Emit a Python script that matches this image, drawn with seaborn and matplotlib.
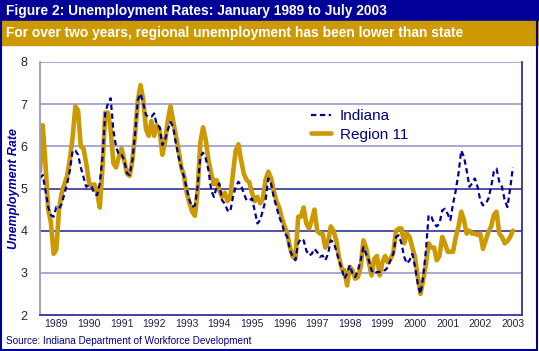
import numpy as np
import pandas as pd
import seaborn as sns
import matplotlib.pyplot as plt
from matplotlib.patches import Rectangle
from matplotlib.lines import Line2D

# monthly rates, Jan 1989 .. Jul 2003 (one row per year)
indiana = [
    5.24, 5.32, 4.96, 4.56, 4.37, 4.33, 4.56, 4.52, 4.64, 4.88, 5.12, 5.43,
    5.90, 5.90, 5.80, 5.50, 5.27, 5.04, 5.08, 5.04, 4.88, 4.84, 5.12, 5.75,
    6.78, 7.02, 7.14, 6.38, 5.99, 5.80, 5.80, 5.67, 5.36, 5.32, 5.67, 6.30,
    7.10, 7.25, 7.02, 6.74, 6.70, 6.70, 6.78, 6.50, 6.46, 6.03, 6.15, 6.38,
    6.58, 6.46, 6.07, 5.75, 5.50, 5.27, 5.00, 4.72, 4.56, 4.60, 5.04, 5.75,
    5.85, 5.71, 5.43, 4.96, 4.80, 5.04, 5.12, 4.72, 4.64, 4.48, 4.45, 4.80,
    5.04, 5.16, 5.08, 4.88, 4.72, 4.72, 4.76, 4.48, 4.17, 4.25, 4.48, 4.72,
    5.24, 5.12, 4.80, 4.56, 4.33, 4.17, 3.95, 3.85, 3.53, 3.38, 3.30, 3.70,
    3.81, 3.77, 3.53, 3.41, 3.45, 3.57, 3.49, 3.38, 3.41, 3.30, 3.45, 3.77,
    3.73, 3.53, 3.30, 3.10, 2.86, 2.98, 3.18, 2.98, 2.90, 3.06, 3.30, 3.61,
    3.45, 3.30, 3.06, 2.98, 3.02, 3.02, 3.06, 3.06, 3.14, 3.30, 3.45, 3.85,
    3.89, 3.70, 3.38, 3.22, 3.30, 3.45, 3.14, 2.75, 2.50, 2.90, 3.53, 4.37,
    4.33, 4.17, 4.10, 4.17, 4.48, 4.52, 4.40, 4.25, 4.64, 4.96, 5.36, 5.90,
    5.75, 5.43, 5.04, 5.12, 5.24, 5.04, 4.72, 4.60, 4.64, 4.76, 5.04, 5.40,
    5.47, 5.16, 5.04, 4.72, 4.56, 5.00, 5.50,
]
region11 = [
    5.40, 6.50, 5.60, 4.50, 4.20, 3.45, 3.55, 4.50, 4.90, 5.10, 5.30, 5.70,
    6.20, 6.95, 6.85, 6.00, 5.95, 5.60, 5.15, 5.05, 5.10, 4.90, 4.55, 5.50,
    6.80, 6.80, 6.40, 5.60, 5.50, 5.75, 5.95, 5.67, 5.35, 5.30, 5.67, 6.30,
    7.10, 7.45, 7.10, 6.40, 6.25, 6.60, 6.25, 6.50, 6.40, 5.80, 6.10, 6.60,
    6.95, 6.60, 6.25, 5.90, 5.50, 5.30, 4.90, 4.65, 4.45, 4.35, 4.95, 6.10,
    6.45, 6.15, 5.67, 5.35, 5.10, 5.20, 4.95, 4.80, 4.90, 4.70, 4.80, 5.35,
    5.90, 6.05, 5.67, 5.35, 5.20, 5.15, 4.90, 4.70, 4.80, 4.65, 4.75, 5.20,
    5.40, 5.25, 4.95, 4.70, 4.55, 4.30, 4.10, 3.93, 3.60, 3.38, 3.34, 4.33,
    4.33, 4.55, 4.17, 4.05, 4.25, 4.50, 4.00, 3.93, 3.93, 3.60, 3.72, 4.10,
    4.00, 3.77, 3.38, 3.10, 3.06, 2.70, 3.14, 3.06, 2.86, 2.90, 3.14, 3.77,
    3.60, 3.25, 2.94, 3.33, 3.40, 2.94, 3.25, 3.40, 3.25, 3.33, 3.48, 4.00,
    4.05, 4.05, 3.70, 3.93, 3.85, 3.60, 3.37, 2.90, 2.50, 2.83, 3.20, 3.70,
    3.60, 3.60, 3.30, 3.40, 3.85, 3.70, 3.50, 3.50, 3.50, 3.85, 4.10, 4.45,
    4.25, 3.93, 4.00, 3.93, 3.93, 3.90, 3.93, 3.57, 3.77, 3.97, 4.10, 4.37,
    4.45, 3.93, 3.85, 3.70, 3.75, 3.85, 4.00,
]
years = [str(y) for y in range(1989, 2004)]

df = pd.DataFrame({'t': np.arange(len(indiana)) / 12,
                   'Indiana': indiana, 'Region 11': region11})

NAVY = '#000099'
GOLD = '#CC9900'
LIGHT = '#9999CC'
DARK = '#333399'

sns.set_style('white')
plt.rcParams['font.family'] = ['Liberation Sans', 'DejaVu Sans']

fig = plt.figure(figsize=(5.39, 3.51), dpi=100)
ax = fig.add_axes([40 / 539, 1 - 315 / 351, 482 / 539, 253 / 351])

# gridlines: outer ones light, middle ones dark
for v in range(3, 9):
    ax.axhline(v, color=DARK if v in (4, 5) else LIGHT, lw=1.2, zorder=0)

sns.lineplot(data=df, x='t', y='Region 11', color=GOLD, lw=3.3, ax=ax)
sns.lineplot(data=df, x='t', y='Indiana', color=NAVY, lw=1.6, ax=ax)
ax.lines[-1].set_dashes([2.4, 1.6])

ax.set_xlim(0, 14.78)
ax.set_ylim(2, 8)
ax.set_yticks(range(2, 9))
ax.tick_params(axis='y', length=0, pad=9, labelsize=9, labelcolor='#222244')
ax.set_xticks(range(0, 15))
ax.set_xticklabels([])
ax.set_xticks(np.arange(len(years)) + 0.5, minor=True)
ax.set_xticklabels(years, minor=True)
ax.tick_params(axis='x', which='major', length=4, width=1, color=DARK, direction='out')
ax.tick_params(axis='x', which='minor', length=0, pad=3, labelsize=7.5, labelcolor='#222244')
ax.set_xlabel('')
ax.set_ylabel('Unemployment Rate', fontsize=9, fontweight='bold', style='italic',
              color=NAVY)
ax.yaxis.set_label_coords(-0.042, 0.5)

for side in ['bottom', 'right']:
    ax.spines[side].set_color(DARK)
    ax.spines[side].set_linewidth(1.3)
ax.spines['left'].set_color(LIGHT)
ax.spines['left'].set_linewidth(1.3)
ax.spines['top'].set_visible(False)

handles = [Line2D([], [], color=NAVY, lw=1.6, dashes=[2.4, 1.6]),
           Line2D([], [], color=GOLD, lw=3.3)]
leg = ax.legend(handles, ['Indiana', 'Region 11'], loc='center left',
                bbox_to_anchor=(0.562, 0.75), frameon=False, fontsize=11,
                handlelength=1.3, handletextpad=0.6, labelspacing=0.3,
                borderpad=0, borderaxespad=0)
for t in leg.get_texts():
    t.set_color('#000080')

# header bars
fig.add_artist(Rectangle((0, 1 - 21 / 351), 1, 21 / 351, transform=fig.transFigure,
                         color=NAVY, zorder=0))
fig.add_artist(Rectangle((0, 1 - 45 / 351), 1, 24 / 351, transform=fig.transFigure,
                         color=GOLD, zorder=0))
fig.text(6 / 539, 1 - 11 / 351, 'Figure 2: Unemployment Rates: January 1989 to July 2003',
         color='white', fontsize=9.9, fontweight='bold', va='center')
fig.text(6 / 539, 1 - 33 / 351, 'For over two years, regional unemployment has been lower than state',
         color='white', fontsize=9.9, fontweight='bold', va='center')
fig.text(6 / 539, 1 - 341 / 351, 'Source: Indiana Department of Workforce Development',
         color='#000080', fontsize=7.2, va='center')
fig.add_artist(Rectangle((0.001, 0.002), 0.996, 0.996, transform=fig.transFigure,
                         fill=False, edgecolor=NAVY, lw=1.5))

fig.savefig('out.png', dpi=100)
